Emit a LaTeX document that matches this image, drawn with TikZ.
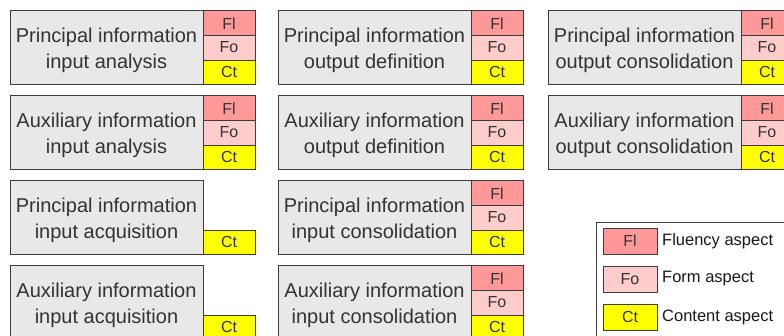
\documentclass[tikz,border=0pt]{standalone}
\usepackage{fontspec}
\setmainfont{Liberation Sans}
\usetikzlibrary{positioning}
\definecolor{fluencyRed}{HTML}{FF9999}
\definecolor{formPink}{HTML}{FFCCCC}
\definecolor{contentYellow}{HTML}{FFFF00}
\definecolor{taskGray}{HTML}{E8E8E8}
\definecolor{edgeGray}{HTML}{3C3C3C}
\definecolor{inkGray}{HTML}{333333}
\tikzset{
  taskBox/.style={draw=edgeGray, line width=0.9pt, outer sep=0pt, inner sep=0pt, fill=taskGray, text=inkGray, align=center, font=\fontsize{20}{25.7}\selectfont, text height=42pt, text depth=0pt, minimum width=193pt, minimum height=73.5pt, anchor=north west},
  aspectCell/.style={draw=edgeGray, line width=0.9pt, outer sep=0pt, inner sep=0pt, text=inkGray, font=\fontsize{16}{16}\selectfont, minimum width=52pt, anchor=north west},
  flCell/.style={aspectCell, fill=fluencyRed, minimum height=24.5pt, text height=14pt, text depth=0pt},
  foCell/.style={aspectCell, fill=formPink, minimum height=25pt},
  ctCell/.style={aspectCell, fill=contentYellow, minimum height=24pt},
  keySwatch/.style={minimum width=54pt, minimum height=26pt, text height=11.7pt, text depth=0pt},
  keyText/.style={font=\fontsize{16.5}{16.5}\selectfont, text=black!90, inner sep=0pt}
}

\begin{document}
\begin{tikzpicture}[x=1pt, y=-1pt]
      \useasboundingbox (0,0) rectangle (784,335);
      \clip (0,0) rectangle (784,335);

      % row 1
      \node[taskBox] (pia) at (10,10.5) {Principal information\\input analysis};
      \node[flCell] (pia-fl) at (pia.north east) {Fl};
      \node[foCell] (pia-fo) at (pia-fl.south west) {Fo};
      \node[ctCell] (pia-ct) at (pia-fo.south west) {Ct};
      \node[taskBox] (pod) at (278,10.5) {Principal information\\output definition};
      \node[flCell] (pod-fl) at (pod.north east) {Fl};
      \node[foCell] (pod-fo) at (pod-fl.south west) {Fo};
      \node[ctCell] (pod-ct) at (pod-fo.south west) {Ct};
      \node[taskBox] (poc) at (548,10.5) {Principal information\\output consolidation};
      \node[flCell] (poc-fl) at (poc.north east) {Fl};
      \node[foCell] (poc-fo) at (poc-fl.south west) {Fo};
      \node[ctCell] (poc-ct) at (poc-fo.south west) {Ct};

      % row 2
      \node[taskBox] (aia) at (10,95.5) {Auxiliary information\\input analysis};
      \node[flCell] (aia-fl) at (aia.north east) {Fl};
      \node[foCell] (aia-fo) at (aia-fl.south west) {Fo};
      \node[ctCell] (aia-ct) at (aia-fo.south west) {Ct};
      \node[taskBox] (aod) at (278,95.5) {Auxiliary information\\output definition};
      \node[flCell] (aod-fl) at (aod.north east) {Fl};
      \node[foCell] (aod-fo) at (aod-fl.south west) {Fo};
      \node[ctCell] (aod-ct) at (aod-fo.south west) {Ct};
      \node[taskBox] (aoc) at (548,95.5) {Auxiliary information\\output consolidation};
      \node[flCell] (aoc-fl) at (aoc.north east) {Fl};
      \node[foCell] (aoc-fo) at (aoc-fl.south west) {Fo};
      \node[ctCell] (aoc-ct) at (aoc-fo.south west) {Ct};

      % rows 3 and 4, acquisition has content only
      \node[taskBox] (piq) at (10,180.5) {Principal information\\input acquisition};
      \node[ctCell, anchor=south west] (piq-ct) at (piq.south east) {Ct};
      \node[taskBox] (pic) at (278,180.5) {Principal information\\input consolidation};
      \node[flCell] (pic-fl) at (pic.north east) {Fl};
      \node[foCell] (pic-fo) at (pic-fl.south west) {Fo};
      \node[ctCell] (pic-ct) at (pic-fo.south west) {Ct};
      \node[taskBox] (aiq) at (10,265.5) {Auxiliary information\\input acquisition};
      \node[ctCell, anchor=south west] (aiq-ct) at (aiq.south east) {Ct};
      \node[taskBox] (aic) at (278,265.5) {Auxiliary information\\input consolidation};
      \node[flCell] (aic-fl) at (aic.north east) {Fl};
      \node[foCell] (aic-fo) at (aic-fl.south west) {Fo};
      \node[ctCell] (aic-ct) at (aic-fo.south west) {Ct};

      % legend
      \node[draw=edgeGray, line width=0.8pt, fill=white, anchor=north west, minimum width=220pt, minimum height=130pt] (legend) at (596,222) {};
      \node[flCell, keySwatch] (key-fl) at (603,228) {Fl};
      \node[foCell, keySwatch, below=12pt of key-fl] (key-fo) {Fo};
      \node[ctCell, keySwatch, below=12pt of key-fo] (key-ct) {Ct};
      \node[keyText, right=5pt of key-fl] (key-fl-text) {Fluency aspect};
      \node[keyText, right=5pt of key-fo] (key-fo-text) {Form aspect};
      \node[keyText, right=5pt of key-ct] (key-ct-text) {Content aspect};
    \end{tikzpicture}
\end{document}
